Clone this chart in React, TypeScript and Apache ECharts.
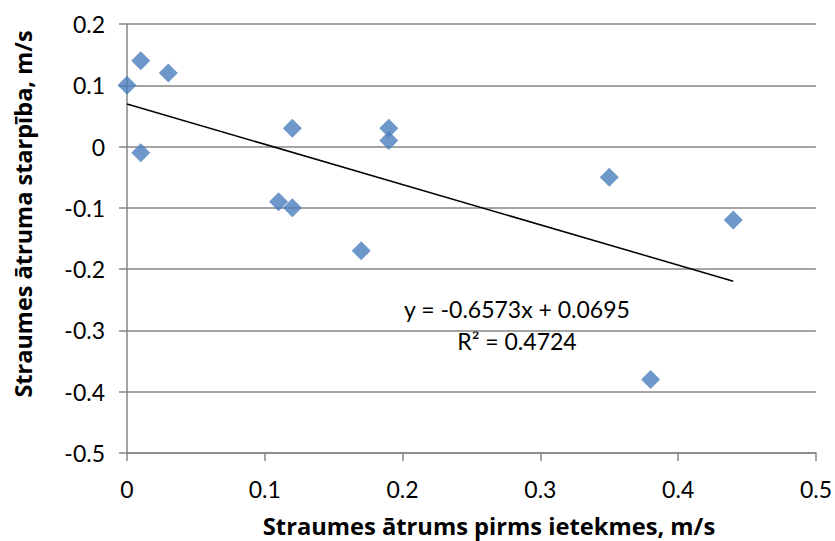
import React, { useEffect, useRef } from "react";
import * as echarts from "echarts";

const xValues = [0, 0.01, 0.03, 0.01, 0.11, 0.12, 0.12, 0.17, 0.19, 0.19, 0.35, 0.38, 0.44];
const yValues = [0.1, 0.14, 0.12, -0.01, -0.09, -0.1, 0.03, -0.17, 0.03, 0.01, -0.05, -0.38, -0.12];
const slope = -0.6573;
const intercept = 0.0695;
const trendX = [0, 0.44];
const xTitle = "Straumes ātrums pirms ietekmes, m/s";
const yTitle = "Straumes ātruma starpība, m/s";
const eqLine1 = "y = -0.6573x + 0.0695";
const eqLine2 = "R² = 0.4724";

const FONT = "Lato, 'Open Sans', sans-serif";
const TFONT = "'Open Sans', Lato, sans-serif";
const GRID = "#868686";

export default function App() {
  const ref = useRef<HTMLDivElement>(null);
  useEffect(() => {
    if (!ref.current) return;
    const chart = echarts.init(ref.current, null, { renderer: "svg" });
    const points = xValues.map((x, i) => [x, yValues[i]]);
    const trend = trendX.map((x) => [x, slope * x + intercept]);
    chart.setOption({
      animation: false,
      backgroundColor: "#fff",
      textStyle: { fontFamily: FONT },
      grid: { left: 127, right: 17, top: 24, bottom: 88, containLabel: false },
      xAxis: {
        type: "value",
        min: 0,
        max: 0.5,
        interval: 0.1,
        axisLine: { show: true, onZero: false, lineStyle: { color: GRID, width: 1.5 } },
        axisTick: { show: true, inside: false, length: 8, lineStyle: { color: GRID, width: 1.5 } },
        axisLabel: { fontFamily: FONT, fontSize: 23, color: "#000", margin: 24, formatter: (v: number) => String(+v.toFixed(1)) },
        splitLine: { show: false },
      },
      yAxis: {
        type: "value",
        min: -0.5,
        max: 0.2,
        interval: 0.1,
        axisLine: { show: true, onZero: false, lineStyle: { color: GRID, width: 1.5 } },
        axisTick: { show: true, inside: false, length: 8, lineStyle: { color: GRID, width: 1.5 } },
        axisLabel: { fontFamily: FONT, fontSize: 23, color: "#000", margin: 22, formatter: (v: number) => String(+v.toFixed(1)) },
        splitLine: { show: true, lineStyle: { color: GRID, width: 1.5 } },
      },
      series: [
        {
          type: "line",
          data: trend,
          symbol: "none",
          lineStyle: { color: "#000", width: 1.5 },
          z: 3,
        },
        {
          type: "scatter",
          data: points,
          symbol: "diamond",
          symbolSize: 19,
          itemStyle: { color: "#4a7ebb" },
          z: 4,
        },
      ],
      graphic: [
        {
          type: "text",
          x: 517,
          y: 309,
          style: { text: eqLine1, font: `23px ${FONT}`, fill: "#000", textAlign: "center", textVerticalAlign: "middle" },
        },
        {
          type: "text",
          x: 517,
          y: 341,
          style: { text: eqLine2, font: `23px ${FONT}`, fill: "#000", textAlign: "center", textVerticalAlign: "middle" },
        },
        {
          type: "text",
          x: 489,
          y: 526,
          style: { text: xTitle, font: `bold 23.7px ${TFONT}`, lineHeight: 24, fill: "#000", textAlign: "center", textVerticalAlign: "middle" },
        },
        {
          type: "text",
          x: 23,
          y: 214,
          rotation: Math.PI / 2,
          style: { text: yTitle, font: `bold 23.5px ${TFONT}`, lineHeight: 24, fill: "#000", textAlign: "center", textVerticalAlign: "middle" },
        },
      ],
    });
    return () => chart.dispose();
  }, []);
  return <div ref={ref} style={{ width: 835, height: 541, position: "absolute", left: 0, top: 0 }} />;
}
